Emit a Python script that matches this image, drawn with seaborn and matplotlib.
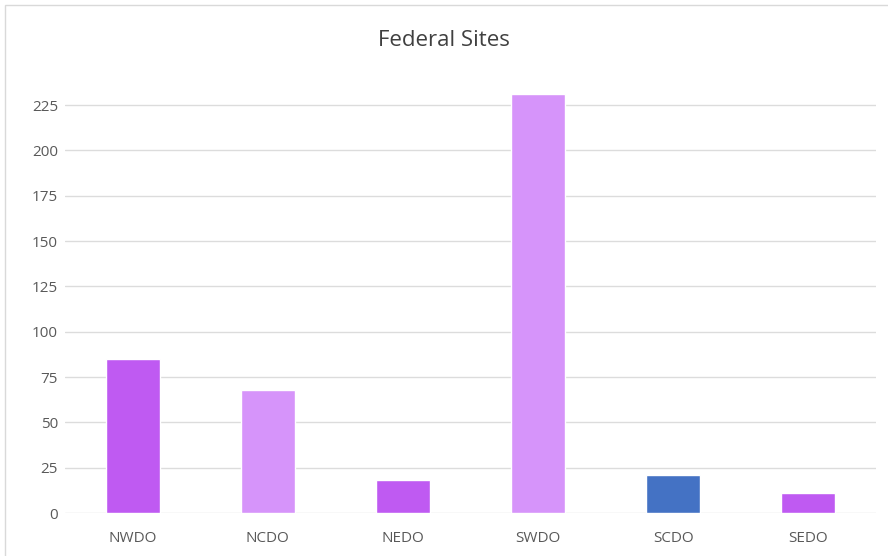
import matplotlib
matplotlib.use("Agg")
import matplotlib.pyplot as plt
import seaborn as sns
import pandas as pd
from matplotlib.patches import Rectangle

# values
offices = ['NWDO', 'NCDO', 'NEDO', 'SWDO', 'SCDO', 'SEDO']
sites = [85, 68, 18, 231, 21, 11]
bar_colors = ['#BF5AF2', '#D694FA', '#BF5AF2', '#D694FA', '#4472C4', '#BF5AF2']
y_ticks = [0, 25, 50, 75, 100, 125, 150, 175, 200, 225]

df = pd.DataFrame({'office': offices, 'sites': sites})

sns.set_theme(style='white')
plt.rcParams['font.family'] = ['Open Sans', 'DejaVu Sans']

fig = plt.figure(figsize=(8.88, 5.56), dpi=100)
ax = fig.add_axes([0.0732, 0.0773, 0.9133, 0.7827])

sns.barplot(data=df, x='office', y='sites', hue='office', palette=bar_colors,
            legend=False, width=0.4, saturation=1, ax=ax, zorder=3)

ax.set_ylim(0, 240)
ax.set_yticks(y_ticks)
ax.yaxis.grid(True, color='#DCDCDC', linewidth=1.0, zorder=0)
ax.set_axisbelow(True)
for s in ax.spines.values():
    s.set_visible(False)
ax.set_xlabel('')
ax.set_ylabel('')
ax.tick_params(axis='both', length=0, labelsize=11, labelcolor='#595959')
ax.tick_params(axis='x', pad=13)
ax.tick_params(axis='y', pad=5)

fig.text(0.5, 1 - 40 / 556, 'Federal Sites', ha='center', va='center',
         fontsize=16, color='#404040')

# outer chart border
fig.add_artist(Rectangle((5 / 888, -0.01), 1.0, 1 - 5 / 556 + 0.01,
                         transform=fig.transFigure, fill=False,
                         edgecolor='#D9D9D9', linewidth=1.0))

fig.savefig('out.png', dpi=100)
